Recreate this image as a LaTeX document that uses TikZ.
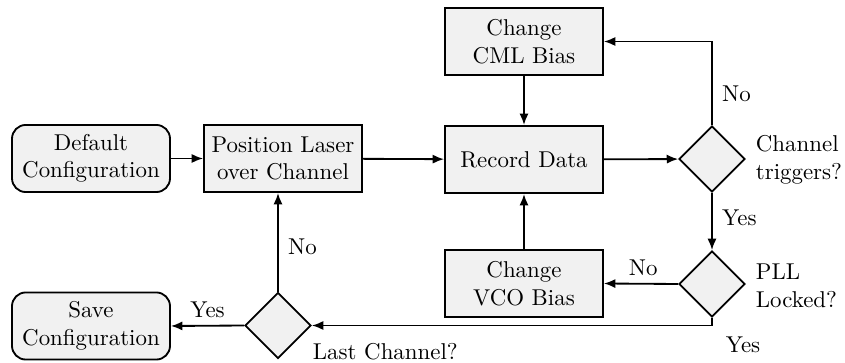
\documentclass[tikz,border=0pt]{standalone}
\usetikzlibrary{shapes.geometric,arrows.meta}
\definecolor{boxfill}{gray}{0.945}
\begin{document}
\begin{tikzpicture}[x=0.4367pt,y=-0.4367pt,
  line width=0.8pt,
  box/.style={draw,fill=boxfill,minimum width=69pt,minimum height=29.3pt,align=center,inner sep=2pt},
  rbox/.style={box,rounded corners=6pt},
  dec/.style={draw,fill=boxfill,diamond,minimum width=28.8pt,minimum height=28.8pt,inner sep=0pt},
  lbl/.style={align=left,inner sep=0pt},
  arr/.style={-{Latex[length=5pt,width=4pt]}}]
\useasboundingbox (0,0) rectangle (845,363);
\node[rbox] (def) at (91,158.5) {Default\\Configuration};
\node[box] (pos) at (283,158.5) {Position Laser\\over Channel};
\node[box] (rec) at (524,159.5) {Record Data};
\node[box] (cml) at (524,41.5) {Change\\CML Bias};
\node[dec] (chan) at (712,159) {};
\node[dec] (pll) at (712,284) {};
\node[box] (vco) at (524,283.5) {Change\\VCO Bias};
\node[dec] (last) at (278,325.5) {};
\node[rbox] (save) at (91,326) {Save\\Configuration};
\node[lbl,anchor=west] (chanl) at (755,160) {Channel\\triggers?};
\node[lbl,anchor=west] (plll) at (755,286) {PLL\\Locked?};
\node[lbl,anchor=west] (lastl) at (312,352) {Last Channel?};
\draw[arr] (def) -- (pos);
\draw[arr] (pos) -- (rec);
\draw[arr] (cml) -- (rec);
\draw[arr] (rec) -- (chan);
\draw[arr] (chan.north) |- node[pos=0.19,right,inner sep=0pt,xshift=4pt] {No} (cml.east);
\draw[arr] (chan.south) -- node[right,inner sep=0pt,xshift=4pt,pos=0.44] {Yes} (pll.north);
\draw[arr] (pll.west) -- node[above,inner sep=3pt,pos=0.47] {No} (vco.east);
\draw[arr] (vco) -- (rec);
\coordinate (corner) at (712,325.5);
\draw[arr] (pll.south) -- (corner) -- (last.east);
\node[lbl] (yes2) at (743,345) {Yes};
\draw[arr] (last.north) -- node[right,inner sep=0pt,xshift=4pt,pos=0.45] {No} (last.north |- pos.south);
\draw[arr] (last.west) -- node[above,inner sep=3pt] {Yes} (save.east);
\end{tikzpicture}
\end{document}
